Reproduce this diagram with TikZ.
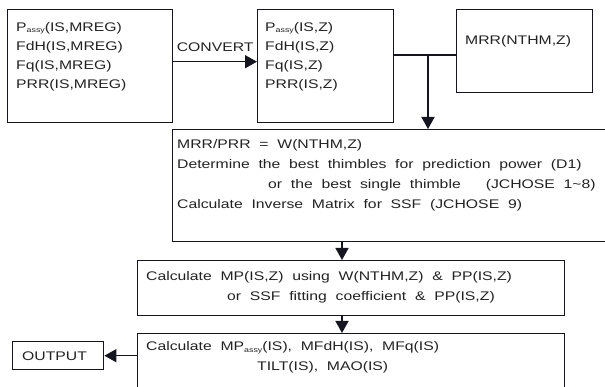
\documentclass[tikz,border=0pt]{standalone}
\usepackage{fontspec}
\setmainfont{Liberation Sans}[FakeStretch=1.26,WordSpace=2.0]
\usetikzlibrary{positioning,arrows.meta}
\definecolor{ink}{HTML}{15151F}
\definecolor{type}{HTML}{222222}
\newcommand{\assy}{\raisebox{-1.8pt}{\fontsize{7}{7}\selectfont assy}}
\newcommand{\lead}{\rule{0pt}{10pt}}

\begin{document}
\begin{tikzpicture}[x=1pt,y=-1pt,
  box/.style={draw=ink,line width=1.4pt,inner sep=0pt,anchor=north west},
  txt/.style={type,align=left,anchor=north west,inner sep=0pt,font=\fontsize{12.5}{20}\selectfont},
  tight/.style={font=\fontsize{12.5}{19}\selectfont},
  link/.style={draw=ink,line width=1.4pt},
  tip/.style={-{Triangle[length=12pt,width=13pt]}}]
\clip (0,0) rectangle (605,387);
% boxes
\node[box,minimum width=165pt,minimum height=113pt] (raw) at (7,9) {};
\node[box,minimum width=136pt,minimum height=113pt] (conv) at (257,9) {};
\node[box,minimum width=136pt,minimum height=83pt] (mrr) at (456,9) {};
\node[box,minimum width=453pt,minimum height=112pt] (wgt) at (172,129) {};
\node[box,minimum width=427pt,minimum height=55pt] (mp) at (137,260) {};
\node[box,minimum width=427pt,minimum height=67pt] (fin) at (137,333) {};
\node[box,minimum width=91pt,minimum height=28pt] (out) at (12,341) {};
% texts
\path (raw.north west) ++(9,12) node[txt,tight] (rawtxt)
  {\lead P\assy(IS,MREG)\\FdH(IS,MREG)\\Fq(IS,MREG)\\PRR(IS,MREG)};
\path (conv.north west) ++(8,12) node[txt,tight] (convtxt)
  {\lead P\assy(IS,Z)\\FdH(IS,Z)\\Fq(IS,Z)\\PRR(IS,Z)};
\path (mrr.north west) ++(9,25) node[txt] (mrrtxt) {\lead MRR(NTHM,Z)};
\path (wgt.north west) ++(5,9) node[txt] (wgttxt)
  {\lead MRR/PRR = W(NTHM,Z)\\
   Determine the best thimbles for prediction power (D1)\\
   \hspace*{91pt}or the best single thimble\hspace{25pt}(JCHOSE 1\textasciitilde 8)\\
   Calculate Inverse Matrix for SSF (JCHOSE 9)};
\path (mp.north west) ++(9,10) node[txt] (mptxt)
  {\lead Calculate MP(IS,Z) using W(NTHM,Z) \& PP(IS,Z)\\
   \hspace*{81pt}or SSF fitting coefficient \& PP(IS,Z)};
\path (fin.north west) ++(9,7) node[txt] (fintxt)
  {\lead Calculate MP\assy(IS), MFdH(IS), MFq(IS)\\
   \hspace*{111pt}TILT(IS), MAO(IS)};
\path (out.north west) ++(10,9) node[txt] (outtxt) {\lead OUTPUT};
% connectors
\coordinate (split) at (428,55);
\coordinate (spine) at (342,0);
\draw[link,tip] ([yshift=4.5pt]raw.east) -- node[txt,anchor=base,above=9pt] (cv) {CONVERT} ([yshift=4.5pt]conv.west);
\draw[link] (conv.east |- split) -- (mrr.west |- split);
\draw[link,tip] (split) -- (split |- wgt.north);
\draw[link,tip] (spine |- wgt.south) -- (spine |- mp.north);
\draw[link,tip] (spine |- mp.south) -- (spine |- fin.north);
\draw[link,tip] (fin.west |- out.east) -- (out.east);
\end{tikzpicture}
\end{document}
